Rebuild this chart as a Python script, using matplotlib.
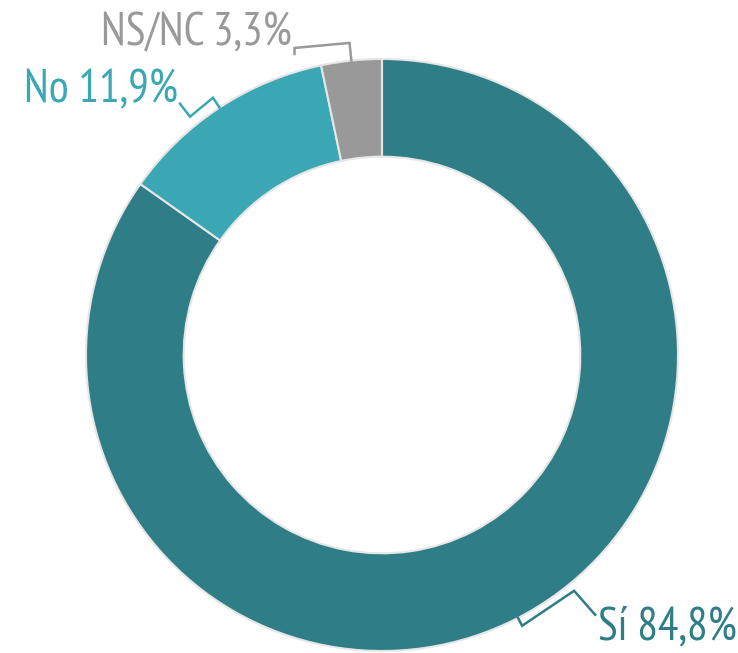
import math
import matplotlib
matplotlib.use("Agg")
import matplotlib.pyplot as plt

# ------------------ datos ------------------
categorias = ["Sí", "No", "NS/NC"]
porcentajes = [84.8, 11.9, 3.3]
colores = ["#2e7d87", "#3ba7b4", "#999999"]

# ------------------ layout (pixeles) ------------------
W, H = 738, 653
CX, CY = 382, 355        # centro del donut
R = 296                  # radio exterior
ANCHO = 0.33             # grosor relativo del anillo

plt.rcParams["font.family"] = ["PT Sans Narrow", "Roboto Condensed", "Liberation Sans Narrow", "DejaVu Sans"]

fig = plt.figure(figsize=(W / 100, H / 100), dpi=100)
ax = fig.add_axes([0, 0, 1, 1])

wedges, _ = ax.pie(porcentajes, colors=colores, startangle=90, counterclock=False,
                   radius=1.0, wedgeprops=dict(width=ANCHO, edgecolor="#e6e6e6", linewidth=1.5))

# limites despues de pie (pie los pisa)
ax.set_xlim(-CX / R, (W - CX) / R)
ax.set_ylim((CY - H) / R, CY / R)
ax.set_aspect("equal")
ax.axis("off")


def px(dx, dy):
    # desplazamiento en pixeles -> unidades de datos
    return dx / R, -dy / R


# conectores: radio del codo, desplazamientos en px, posicion del texto relativa al final
conectores = [
    (1.03, [(52, -35), (21, 24)], (3, 25), "left"),
    (1.04, [(-23, 19), (-10, -13)], (-2, -2), "right"),
    (1.06, [(-55, 5), (0, 6)], (-3, -8), "right"),
]

acum = 0.0
for cat, val, col, (r_codo, pasos, off_txt, ha) in zip(categorias, porcentajes, colores, conectores):
    medio = acum + val / 2
    acum += val
    ang = math.radians(90 - medio / 100 * 360)
    x0, y0 = math.cos(ang), math.sin(ang)
    xs = [x0, r_codo * x0]
    ys = [y0, r_codo * y0]
    for dx, dy in pasos:
        ddx, ddy = px(dx, dy)
        xs.append(xs[-1] + ddx)
        ys.append(ys[-1] + ddy)
    ax.plot(xs, ys, color=col, lw=1.8, solid_joinstyle="miter", zorder=3)
    tdx, tdy = px(*off_txt)
    etiqueta = f"{cat} {val:.1f}%".replace(".", ",")
    ax.text(xs[-1] + tdx, ys[-1] + tdy, etiqueta, color=col, fontsize=33,
            ha=ha, va="baseline")

fig.savefig("out.png", dpi=100, facecolor="white")
